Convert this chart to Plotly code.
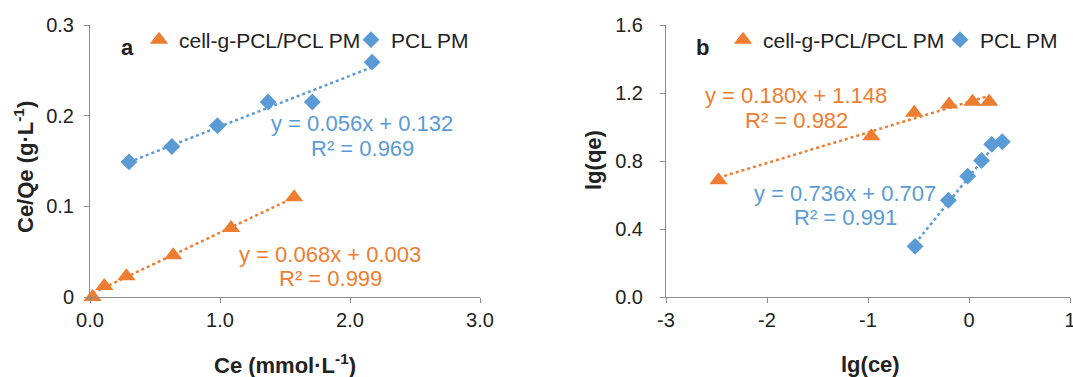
import plotly.graph_objects as go
import numpy as np

W, H = 1073, 377

# ---------------- data ----------------
# Panel a : Ce/Qe vs Ce
a_cell_x = [0.02, 0.11, 0.28, 0.64, 1.085, 1.57]
a_cell_y = [0.0, 0.012, 0.023, 0.046, 0.076, 0.110]
a_pcl_x = [0.30, 0.63, 0.98, 1.37, 1.71, 2.17]
a_pcl_y = [0.149, 0.166, 0.189, 0.215, 0.215, 0.259]
a_cell_fit = [0.068, 0.003]
a_pcl_fit = [0.056, 0.132]
a_cell_r2 = 0.999
a_pcl_r2 = 0.969

# Panel b : lg(qe) vs lg(ce)
b_cell_x = [-2.48, -0.967, -0.543, -0.197, 0.035, 0.200]
b_cell_y = [0.687, 0.946, 1.084, 1.133, 1.148, 1.148]
b_pcl_x = [-0.534, -0.204, -0.013, 0.124, 0.225, 0.329]
b_pcl_y = [0.298, 0.569, 0.711, 0.803, 0.898, 0.913]
b_cell_fit = [0.180, 1.148]
b_pcl_fit = [0.736, 0.707]
b_cell_r2 = 0.982
b_pcl_r2 = 0.991

a_xticks = [0, 1, 2, 3]
a_xticklabels = ["0.0", "1.0", "2.0", "3.0"]
a_yticks = [0, 0.1, 0.2, 0.3]
a_yticklabels = ["0", "0.1", "0.2", "0.3"]
b_xticks = [-3, -2, -1, 0, 1]
b_xticklabels = ["-3", "-2", "-1", "0", "1"]
b_yticks = [0, 0.4, 0.8, 1.2, 1.6]
b_yticklabels = ["0.0", "0.4", "0.8", "1.2", "1.6"]

names = ["cell-g-PCL/PCL PM", "PCL PM"]

ORANGE = "#ED7D31"
BLUE = "#5B9BD5"
AXC = "#8C8C8C"
TXT = "#222222"
FONT = "Liberation Sans, Arial, sans-serif"


def px(x):
    return x / W


def py(y):
    return 1 - y / H


fig = go.Figure()


def add_panel(xa, ya, legs, cx, cy, px_, py_, cfit, pfit):
    fig.add_trace(go.Scatter(x=cx, y=cy, mode="markers", name=names[0],
                             marker=dict(symbol="triangle-up", size=16, color=ORANGE),
                             xaxis=xa, yaxis=ya, legend=legs[0], cliponaxis=False))
    fig.add_trace(go.Scatter(x=px_, y=py_, mode="markers", name=names[1],
                             marker=dict(symbol="diamond", size=13, color=BLUE),
                             xaxis=xa, yaxis=ya, legend=legs[1], cliponaxis=False))
    for xs, fit, col in [(cx, cfit, ORANGE), (px_, pfit, BLUE)]:
        lx = np.array([min(xs), max(xs)])
        ly = fit[0] * lx + fit[1]
        fig.add_trace(go.Scatter(x=lx, y=ly, mode="lines", showlegend=False,
                                 line=dict(color=col, width=2.5, dash="dot"),
                                 xaxis=xa, yaxis=ya, cliponaxis=False))


add_panel("x", "y", ["legend", "legend2"], a_cell_x, a_cell_y, a_pcl_x, a_pcl_y,
          a_cell_fit, a_pcl_fit)
add_panel("x2", "y2", ["legend3", "legend4"], b_cell_x, b_cell_y, b_pcl_x, b_pcl_y,
          b_cell_fit, b_pcl_fit)

axis_common = dict(showline=True, linecolor=AXC, linewidth=1, ticks="outside",
                   ticklen=5, tickcolor=AXC, showgrid=False, zeroline=False,
                   automargin=False, ticklabeloverflow="allow",
                   tickfont=dict(size=20, color=TXT, family=FONT))


def leg(x):
    return dict(x=px(x), y=py(40), xanchor="left", yanchor="middle",
                orientation="h", font=dict(size=21, color=TXT, family=FONT),
                bgcolor="rgba(0,0,0,0)", itemwidth=30)


ydom = [py(297), py(25)]
fig.update_layout(
    width=W, height=H, margin=dict(l=0, r=0, t=0, b=0, autoexpand=False),
    paper_bgcolor="white", plot_bgcolor="white",
    font=dict(family=FONT, size=20, color=TXT),
    xaxis=dict(domain=[px(90), px(480)], range=[0, 3], tickvals=a_xticks,
               ticktext=a_xticklabels, anchor="y", **axis_common),
    yaxis=dict(domain=ydom, range=[0, 0.3], tickvals=a_yticks,
               ticktext=a_yticklabels, anchor="x", ticklabelstandoff=6,
               **axis_common),
    xaxis2=dict(domain=[px(666), px(1070)], range=[-3, 1], tickvals=b_xticks,
                ticktext=b_xticklabels, anchor="y2", **axis_common),
    yaxis2=dict(domain=ydom, range=[0, 1.6], tickvals=b_yticks,
                ticktext=b_yticklabels, anchor="x2", ticklabelstandoff=13,
                **axis_common),
    legend=leg(139),
    legend2=leg(351),
    legend3=leg(723),
    legend4=leg(940),
)


def ann(x, y, text, size=20, color=TXT, angle=0, bold=False):
    if bold:
        text = "<b>" + text + "</b>"
    fig.add_annotation(x=px(x), y=py(y), xref="paper", yref="paper", text=text,
                       showarrow=False, textangle=angle, xanchor="center",
                       yanchor="middle", font=dict(size=size, color=color, family=FONT))


# panel letters
ann(127, 47, "a", size=22, bold=True)
ann(702, 48, "b", size=22, bold=True)
# axis titles
ann(285, 364, "Ce (mmol·L<sup>-1</sup>)", size=22, bold=True)
ann(24, 167, "Ce/Qe (g·L<sup>-1</sup>)", size=22, bold=True, angle=-90)
ann(870, 364, "lg(ce)", size=22, bold=True)
ann(593, 160, "lg(qe)", size=22, bold=True, angle=-90)


def eq(fit, r2, x, y, col):
    ann(x, y, f"y = {fit[0]:.3f}x + {fit[1]:.3f}", color=col, size=22)
    ann(x, y + 24, f"R² = {r2:.3f}", color=col, size=22)


eq(a_pcl_fit, a_pcl_r2, 362, 124, BLUE)
eq(a_cell_fit, a_cell_r2, 330, 254, ORANGE)
eq(b_cell_fit, b_cell_r2, 796, 96, ORANGE)
eq(b_pcl_fit, b_pcl_r2, 845, 193, BLUE)

fig.write_html("out.html")
